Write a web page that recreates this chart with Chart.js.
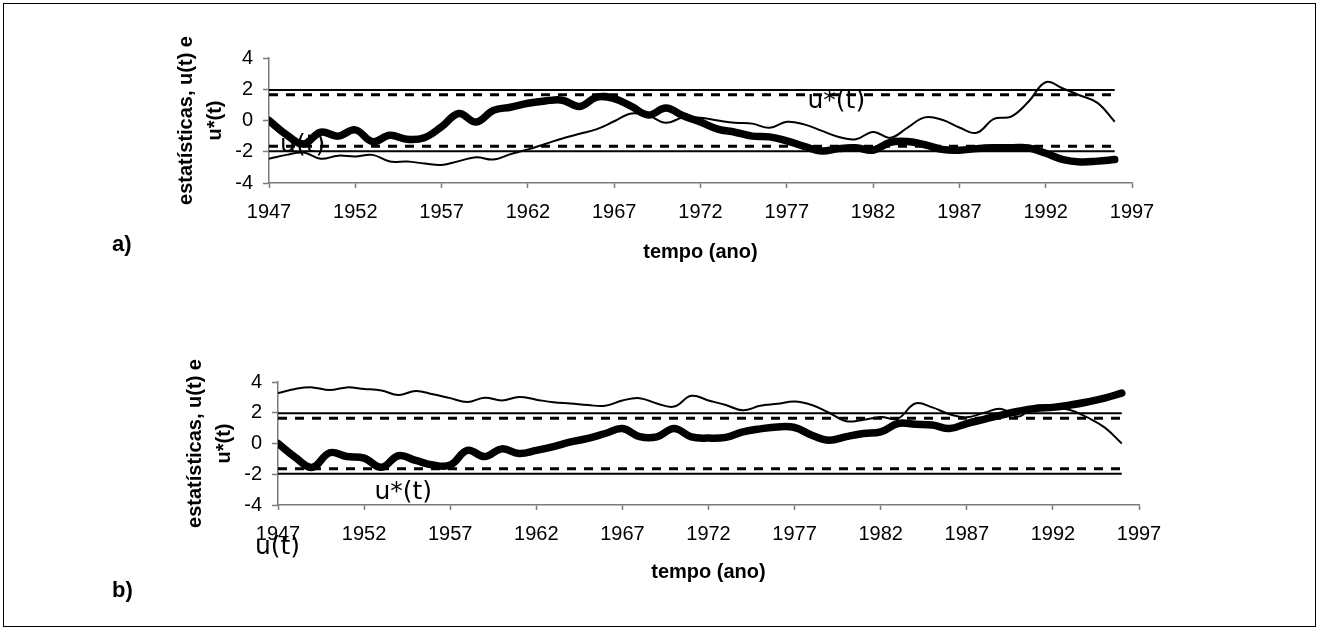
<!DOCTYPE html>
<html><head><meta charset="utf-8">
<script src="https://cdn.jsdelivr.net/npm/chart.js@4.4.1/dist/chart.umd.min.js"></script>
<style>
html,body{margin:0;padding:0;background:#fff;}
body{width:1319px;height:630px;position:relative;overflow:hidden;font-family:'Liberation Sans',Arial,sans-serif;}
#frame{position:absolute;left:3px;top:3px;width:1311px;height:622px;border:1px solid #000;}
canvas{position:absolute;left:0;}
#ca{top:0}
#cb{top:315px}
.lab{position:absolute;font-weight:bold;font-size:22px;line-height:24px;font-family:'Liberation Sans Narrow','Liberation Sans',Arial,sans-serif;}
</style></head><body>
<div id="frame"></div>
<canvas id="ca" width="1319" height="315"></canvas>
<canvas id="cb" width="1319" height="315"></canvas>
<div class="lab" style="left:112px;top:232px">a)</div>
<div class="lab" style="left:112px;top:578px">b)</div>
<script>
// categories (years)
const years = [1947,1948,1949,1950,1951,1952,1953,1954,1955,1956,1957,1958,1959,1960,1961,1962,1963,1964,1965,1966,1967,1968,1969,1970,1971,1972,1973,1974,1975,1976,1977,1978,1979,1980,1981,1982,1983,1984,1985,1986,1987,1988,1989,1990,1991,1992,1993,1994,1995,1996];

// panel a)
const uA = [0,-0.9,-1.5,-0.75,-1.0,-0.6,-1.35,-0.95,-1.2,-1.1,-0.4,0.45,-0.1,0.65,0.85,1.1,1.25,1.3,0.9,1.5,1.4,0.9,0.35,0.8,0.3,-0.1,-0.55,-0.75,-1.0,-1.05,-1.3,-1.65,-1.95,-1.8,-1.75,-1.9,-1.4,-1.35,-1.55,-1.85,-1.9,-1.8,-1.75,-1.75,-1.75,-2.1,-2.5,-2.65,-2.6,-2.5];
const uStarA = [-2.45,-2.2,-2.05,-2.45,-2.25,-2.3,-2.2,-2.63,-2.63,-2.75,-2.85,-2.6,-2.35,-2.5,-2.15,-1.85,-1.5,-1.15,-0.85,-0.55,-0.05,0.45,0.3,-0.15,0.2,0.18,0.0,-0.15,-0.2,-0.47,-0.08,-0.25,-0.65,-1.05,-1.2,-0.73,-1.11,-0.45,0.2,0.05,-0.45,-0.79,0.1,0.25,1.2,2.45,2.05,1.6,1.13,-0.08];

// panel b)
const uB = [0,-0.9,-1.55,-0.6,-0.85,-0.95,-1.55,-0.8,-1.1,-1.4,-1.4,-0.45,-0.85,-0.35,-0.65,-0.45,-0.2,0.1,0.33,0.65,0.97,0.45,0.43,0.97,0.43,0.35,0.4,0.75,0.95,1.08,1.04,0.54,0.21,0.45,0.65,0.75,1.3,1.25,1.2,0.97,1.3,1.57,1.85,2.1,2.28,2.35,2.5,2.7,2.95,3.28];
const uStarB = [3.28,3.55,3.65,3.48,3.65,3.55,3.45,3.15,3.42,3.2,2.95,2.7,2.98,2.8,3.03,2.85,2.68,2.6,2.5,2.45,2.8,2.95,2.6,2.4,3.1,2.8,2.5,2.16,2.45,2.58,2.73,2.5,2.0,1.45,1.55,1.72,1.62,2.6,2.35,1.9,1.7,2.0,2.25,1.75,2.45,2.3,2.18,1.7,1.05,0.0];

// critical values (solid, dashed)
const critSolid = 1.96;
const critDashed = 1.645;

// axis ticks
const xMin = 1947, xMax = 1997, xStep = 5;
const yMin = -4, yMax = 4, yStep = 2;

// text annotations (data coordinates)
const notesA = [{text:'u*(t)', x:1978.2, y:1.24},{text:'u(t)', x:1947.64, y:-1.6}];
const notesB = [{text:'u*(t)', x:1952.6, y:-3.19},{text:'u(t)', x:1945.66, y:-6.76}];

const textNotes = {
  id:'textNotes',
  beforeDatasetsDraw(chart, args, opts){
    const {ctx, scales:{x,y}} = chart;
    ctx.save();
    ctx.font = '25px "DejaVu Sans"';
    ctx.fillStyle = '#000';
    ctx.textBaseline = 'middle';
    ctx.textAlign = 'left';
    (opts.items||[]).forEach(it => ctx.fillText(it.text, x.getPixelForValue(it.x), y.getPixelForValue(it.y)));
    ctx.restore();
  }
};

function pts(vals){ return years.map((yr,i)=>({x:yr, y:vals[i]})); }
function flat(v){ return [{x:years[0], y:v},{x:years[years.length-1], y:v}]; }

function makeChart(id, u, us, g, notes){
  const axisCol = '#7a7a7a';
  return new Chart(document.getElementById(id), {
    type:'line',
    data:{datasets:[
      {label:'u(t)', data:pts(u), borderColor:'#000', borderWidth:7.5, tension:0.4, pointRadius:0, borderJoinStyle:'round', borderCapStyle:'round'},
      {label:'u*(t)', data:pts(us), borderColor:'#000', borderWidth:2, tension:0.4, pointRadius:0},
      {data:flat(critSolid), borderColor:'#000', borderWidth:2, pointRadius:0},
      {data:flat(-critSolid), borderColor:'#000', borderWidth:2, pointRadius:0},
      {data:flat(critDashed), borderColor:'#000', borderWidth:3, borderDash:[9,8], pointRadius:0},
      {data:flat(-critDashed), borderColor:'#000', borderWidth:3, borderDash:[9,8], pointRadius:0}
    ]},
    options:{
      responsive:false, animation:false, devicePixelRatio:1,
      layout:{padding:{left:0, top:g.top, right:1319-g.right, bottom:0}},
      plugins:{legend:{display:false}, tooltip:{enabled:false}, textNotes:{items:notes}},
      scales:{
        x:{type:'linear', min:xMin, max:xMax,
          afterFit:(s)=>{ s.height = 315 - g.bottom; },
          ticks:{stepSize:xStep, color:'#000', font:{family:'Liberation Sans', size:20}, padding:12, maxRotation:0, autoSkip:false, callback:(v)=>String(v)},
          grid:{drawOnChartArea:false, drawTicks:true, tickLength:5, tickColor:axisCol, tickWidth:1.5},
          border:{display:true, color:axisCol, width:1.5},
          title:{display:true, text:'tempo (ano)', color:'#000', font:{family:'Liberation Sans', size:20, weight:'bold', lineHeight:1.2}, padding:{top:0, bottom:g.xtb}}
        },
        y:{min:yMin, max:yMax,
          afterFit:(s)=>{ s.width = g.left; },
          ticks:{stepSize:yStep, color:'#000', font:{family:'Liberation Sans', size:20}, padding:10},
          grid:{drawOnChartArea:false, drawTicks:true, tickLength:6, tickColor:axisCol, tickWidth:1.5},
          border:{display:true, color:axisCol, width:1.5},
          title:{display:true, text:['estatísticas, u(t) e','u*(t)'], color:'#000', font:{family:'Liberation Sans', size:20, weight:'bold', lineHeight:'29px'}, padding:{top:g.ytp, bottom:0}}
        }
      }
    },
    plugins:[textNotes]
  });
}

makeChart('ca', uA, uStarA, {left:269, right:1132, top:58, bottom:183, xtb:51, ytp:171.5}, notesA);
makeChart('cb', uB, uStarB, {left:278, right:1139, top:67, bottom:190, xtb:46, ytp:180.5}, notesB);
</script>
</body></html>
